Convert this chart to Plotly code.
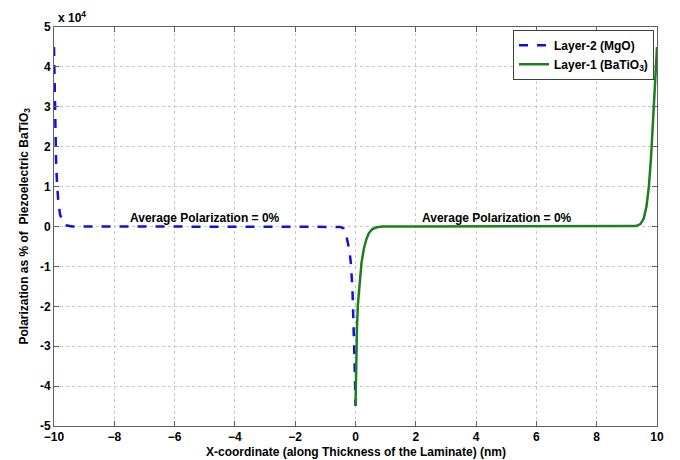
import plotly.graph_objects as go

# Layer-2 (MgO), blue dashed, x in nm, polarization in %
mgo_x = [-10, -9.98, -9.96, -9.93, -9.9, -9.86, -9.8, -9.75, -9.7, -9.6, -9.5, -9.4,
         -8, -6, -4, -2, -0.8, -0.5, -0.4, -0.3, -0.2, -0.15, -0.1, -0.06, -0.03, 0]
mgo_y = [45000, 34000, 24000, 16000, 11000, 6500, 3000, 1800, 1000, 300, 60, 0,
         0, 0, 0, 0, 0, -100, -500, -2500, -6000, -9500, -16000, -25000, -34000, -45000]

# Layer-1 (BaTiO3), green solid
bto_x = [0, 0.02, 0.05, 0.08, 0.14, 0.2, 0.28, 0.36, 0.44, 0.55, 0.7, 0.9,
         2, 4, 6, 8, 9.0, 9.3, 9.45, 9.56, 9.65, 9.73, 9.8, 9.84, 9.88, 9.92, 9.96, 10]
bto_y = [-45000, -34000, -25000, -19500, -13000, -9000, -5500, -3200, -1700, -700, -200, 0,
         0, 0, 0, 0, 0, 100, 600, 2000, 5000, 10000, 17000, 22500, 28500, 35000, 40000, 45000]

x_ticks = [-10, -8, -6, -4, -2, 0, 2, 4, 6, 8, 10]
y_ticks = [-50000, -40000, -30000, -20000, -10000, 0, 10000, 20000, 30000, 40000, 50000]
y_ticktext = ["-5", "-4", "-3", "-2", "-1", "0", "1", "2", "3", "4", "5"]

FONT = "Liberation Sans"

fig = go.Figure()
fig.add_trace(go.Scatter(x=mgo_x, y=mgo_y, mode="lines", name="Layer-2 (MgO)",
                         line=dict(color="#1010e0", width=2.5, dash="dash")))
fig.add_trace(go.Scatter(x=bto_x, y=bto_y, mode="lines", name="Layer-1 (BaTiO<sub>3</sub>)",
                         line=dict(color="#1e7e1e", width=2.5)))

axis_common = dict(showgrid=True, gridcolor="#c8c8c8", griddash="dot", gridwidth=1,
                   showline=True, linecolor="#606060", linewidth=1, mirror="ticks",
                   ticks="inside", ticklen=5, tickcolor="#606060", zeroline=False,
                   tickfont=dict(family=FONT, size=12, color="black", weight="bold"))

fig.update_xaxes(range=[-10, 10], tickvals=x_ticks, ticklabelstandoff=0, **axis_common)
fig.update_yaxes(range=[-50000, 50000], tickvals=y_ticks, ticktext=y_ticktext, **axis_common)

fig.update_layout(
    width=680, height=460,
    margin=dict(l=54, r=23, t=27, b=34),
    paper_bgcolor="white", plot_bgcolor="white",
    showlegend=True,
    legend=dict(x=0.995, y=0.993, xanchor="right", yanchor="top",
                bgcolor="white", bordercolor="#404040", borderwidth=1,
                font=dict(family=FONT, size=12, color="black", weight="bold"),
                tracegroupgap=0, itemwidth=30),
    annotations=[
        dict(text="Average Polarization = 0%", x=-5.0, y=2200, xref="x", yref="y",
             showarrow=False, font=dict(family=FONT, size=12, color="black", weight="bold")),
        dict(text="Average Polarization = 0%", x=4.7, y=2200, xref="x", yref="y",
             showarrow=False, font=dict(family=FONT, size=12, color="black", weight="bold")),
        dict(text="x 10<sup>4</sup>", x=0.0, y=1.0, xref="paper", yref="paper",
             xanchor="left", yanchor="bottom", xshift=2, yshift=0, showarrow=False,
             font=dict(family=FONT, size=12, color="black", weight="bold")),
        dict(text="X-coordinate (along Thickness of the Laminate) (nm)", x=0.5, y=0,
             xref="paper", yref="paper", xanchor="center", yanchor="top", yshift=-18,
             borderpad=0, showarrow=False,
             font=dict(family=FONT, size=12, color="black", weight="bold")),
        dict(text="Polarization as % of  Piezoelectric BaTiO<sub>3</sub>", x=0, y=0.5,
             xref="paper", yref="paper", xanchor="right", yanchor="middle", textangle=-90,
             xshift=-20, showarrow=False,
             font=dict(family=FONT, size=12, color="black", weight="bold")),
    ],
)

fig.write_html("out.html")
